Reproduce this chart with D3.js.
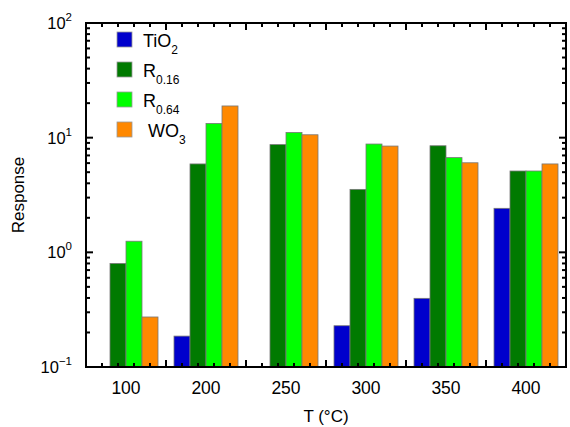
<!DOCTYPE html>
<html>
<head>
<meta charset="utf-8">
<script src="https://d3js.org/d3.v7.min.js"></script>
<style>
body { margin: 0; background: #fff; }
text { font-family: Arial, "Liberation Sans", sans-serif; fill: #000; }
.frame line, .frame path { stroke: #000; stroke-width: 2; }
</style>
</head>
<body>
<svg width="570" height="427"></svg>
<script>
// temperatures on the x axis
var temps = ['100', '200', '250', '300', '350', '400'];
// series names (base, subscript)
var seriesNames = [['TiO', '2'], ['R', '0.16'], ['R', '0.64'], [' WO', '3']];
var colors = ['#0000cc', '#007a00', '#00ff00', '#ff8800'];
// response values, null = no bar
var tio2 = [null, 0.186, null, 0.229, 0.397, 2.42];
var r016 = [0.80, 5.9, 8.7, 3.54, 8.5, 5.12];
var r064 = [1.25, 13.3, 11.1, 8.8, 6.7, 5.12];
var wo3  = [0.273, 18.9, 10.6, 8.45, 6.04, 5.9];
var series = [tio2, r016, r064, wo3];
var yTicks = [-1, 0, 1, 2];

var svg = d3.select('svg');
var m = { left: 86, right: 566, top: 23, bottom: 367 };

var x = d3.scaleBand().domain(temps).range([m.left, m.right]).paddingInner(0.2).paddingOuter(0.1);
var inner = d3.scaleBand().domain(d3.range(4)).range([0, x.bandwidth()]);
var y = d3.scaleLog().domain([0.1, 100]).range([m.bottom, m.top]);

// bars
series.forEach(function(vals, si) {
  svg.append('g').selectAll('rect')
    .data(vals.map(function(v, i) { return { t: temps[i], v: v }; }).filter(function(d) { return d.v != null; }))
    .enter().append('rect')
    .attr('x', function(d) { return x(d.t) + inner(si); })
    .attr('y', function(d) { return y(d.v); })
    .attr('width', inner.bandwidth())
    .attr('height', function(d) { return m.bottom - y(d.v); })
    .attr('fill', colors[si])
    .attr('stroke', '#777')
    .attr('stroke-width', 0.8);
});

// x ticks: major at group boundaries, minor every 16px
var xb = d3.scaleLinear().domain([0, temps.length]).range([m.left, m.right]);
var frame = svg.append('g').attr('class', 'frame');
d3.range(0, temps.length + 0.001, 0.2).forEach(function(k) {
  var major = Math.abs(k - Math.round(k)) < 1e-6;
  var len = major ? 7 : 4;
  var px = xb(k);
  frame.append('line').attr('x1', px).attr('x2', px).attr('y1', m.bottom).attr('y2', m.bottom - len);
  frame.append('line').attr('x1', px).attr('x2', px).attr('y1', m.top).attr('y2', m.top + len);
});

// y ticks (log, major + minor)
for (var e = -1; e <= 2; e++) {
  for (var k = 1; k <= 9; k++) {
    var v = k * Math.pow(10, e);
    if (v > 100) break;
    var len = k === 1 ? 7 : 4;
    var py = y(v);
    frame.append('line').attr('x1', m.left).attr('x2', m.left + len).attr('y1', py).attr('y2', py);
    frame.append('line').attr('x1', m.right).attr('x2', m.right - len).attr('y1', py).attr('y2', py);
  }
}

frame.append('rect').attr('x', m.left).attr('y', m.top)
  .attr('width', m.right - m.left).attr('height', m.bottom - m.top)
  .attr('fill', 'none').attr('stroke', '#000').attr('stroke-width', 2);

// x tick labels
svg.append('g').selectAll('text').data(temps).enter().append('text')
  .attr('x', function(d) { return x(d) + x.bandwidth() / 2; })
  .attr('y', 394)
  .attr('text-anchor', 'middle')
  .attr('font-size', 17.5)
  .text(function(d) { return d; });

// y tick labels 10^n
yTicks.forEach(function(p) {
  var t = svg.append('text').attr('x', 72).attr('y', y(Math.pow(10, p)) + 6)
    .attr('text-anchor', 'end').attr('font-size', 16.5);
  t.append('tspan').text('10');
  t.append('tspan').attr('dy', -8).attr('font-size', 11.5).text(String(p).replace('-', '\u2212'));
});

// axis titles
svg.append('text').attr('x', (m.left + m.right) / 2).attr('y', 422)
  .attr('text-anchor', 'middle').attr('font-size', 17).text('T (\u00b0C)');
svg.append('text').attr('transform', 'translate(24,' + ((m.top + m.bottom) / 2) + ') rotate(-90)')
  .attr('text-anchor', 'middle').attr('font-size', 17).text('Response');

// legend
var lg = svg.append('g');
seriesNames.forEach(function(n, i) {
  var ly = 32 + i * 30;
  lg.append('rect').attr('x', 117).attr('y', ly).attr('width', 15).attr('height', 15)
    .attr('fill', colors[i]).attr('stroke', '#999').attr('stroke-width', 0.8);
  var t = lg.append('text').attr('x', 143).attr('y', ly + 15).attr('font-size', 18)
    .style('white-space', 'pre');
  t.append('tspan').text(n[0]);
  t.append('tspan').attr('dy', 7).attr('font-size', 12).text(n[1]);
});
</script>
</body>
</html>
